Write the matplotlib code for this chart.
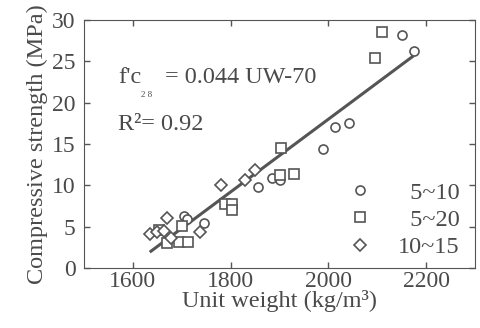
import matplotlib.pyplot as plt
import numpy as np

plt.rcParams['font.family'] = ['Liberation Serif', 'DejaVu Serif']

# unit weight (kg/m3) and 28-day strength (MPa)
uw_5_10 = [1704, 1711, 1745, 1857, 1884, 1901, 1988, 2014, 2042, 2150, 2175]
fc_5_10 = [6.3, 5.9, 5.5, 9.8, 10.9, 10.6, 14.4, 17.1, 17.6, 28.2, 26.2]

uw_5_20 = [1653, 1670, 1694, 1713, 1700, 1789, 1803, 1803, 1901, 1929, 1903, 2096, 2109]
fc_5_20 = [4.6, 3.0, 3.1, 3.1, 5.1, 7.8, 7.7, 7.0, 11.2, 11.4, 14.5, 25.4, 28.6]

uw_10_15 = [1636, 1650, 1663, 1670, 1677, 1738, 1781, 1830, 1850]
fc_10_15 = [4.1, 4.3, 4.5, 6.0, 3.6, 4.4, 10.0, 10.6, 11.8]

fit_range = [1637, 2172]
slope, intercept = 0.044, -70
labels = ['\u20075~10', '\u20075~20', '10~15']

grey = '#555555'
txt = '#4a4a4a'
fs = 17.5

fig = plt.figure(figsize=(4.8, 3.28), dpi=100)
ax = fig.add_axes([0.175, 0.183, 0.8146, 0.756])

x_fit = np.array(fit_range)
ax.plot(x_fit, slope * x_fit + intercept, color=grey, lw=2.2, zorder=1)

mk = dict(ls='none', mfc='white', mec=grey, mew=1.2, zorder=2)
ax.plot(uw_5_10, fc_5_10, marker='o', ms=6.5, label=labels[0], **mk)
ax.plot(uw_5_20, fc_5_20, marker='s', ms=6.5, label=labels[1], **mk)
ax.plot(uw_10_15, fc_10_15, marker='D', ms=6.5, label=labels[2], **mk)

ax.set_xlim(1500, 2300)
ax.set_ylim(0, 30)
ax.set_xticks([1600, 1800, 2000, 2200])
ax.set_yticks(range(0, 31, 5))
ax.tick_params(direction='in', top=True, right=True, length=4, width=1,
               colors=grey, labelcolor=txt, labelsize=17)
ax.tick_params(axis='y', pad=6)
ax.tick_params(axis='x', pad=2)
for s in ax.spines.values():
    s.set_color(grey)

ax.set_xlabel('Unit weight (kg/m\u00b3)', fontsize=fs, color=txt, labelpad=-1)
ax.set_ylabel('Compressive strength (MPa)', fontsize=fs, color=txt, labelpad=3)

ax.text(0.087, 0.746, "f'c", transform=ax.transAxes, fontsize=fs, color=txt, va='baseline')
ax.text(0.146, 0.69, '2 8', transform=ax.transAxes, fontsize=6.5, color=txt, va='baseline')
ax.text(0.207, 0.746, '= 0.044 UW-70', transform=ax.transAxes, fontsize=fs, color=txt, va='baseline')
ax.text(0.087, 0.556, 'R\u00b2= 0.92', transform=ax.transAxes, fontsize=fs, color=txt, va='baseline')

leg = ax.legend(loc='lower right', bbox_to_anchor=(0.985, 0.0), frameon=False,
                fontsize=fs, handletextpad=1.05, labelspacing=0.22,
                borderaxespad=0, handlelength=1.0)
for t in leg.get_texts():
    t.set_color(txt)

fig.savefig('out.png', dpi=100)
